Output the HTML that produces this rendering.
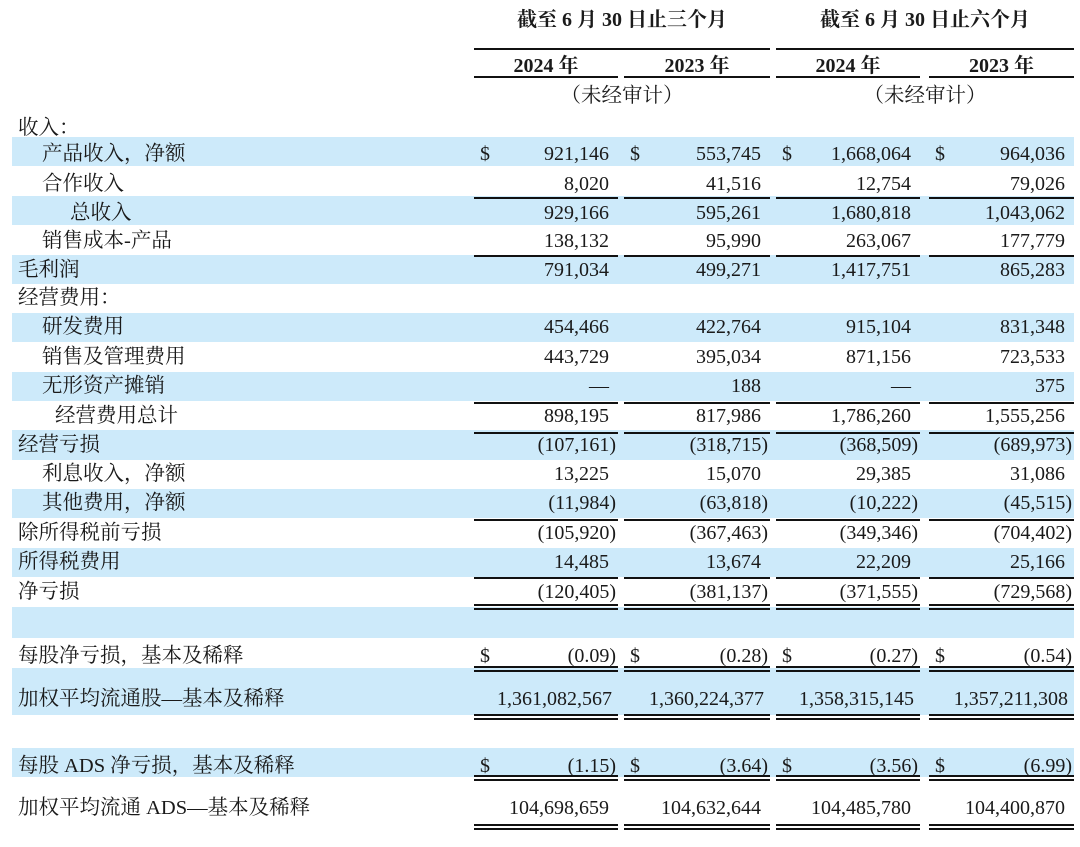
<!DOCTYPE html>
<html><head><meta charset="utf-8">
<style>
html,body{margin:0;padding:0;background:#fff;}
#root{position:relative;width:1080px;height:847px;overflow:hidden;font-family:"Liberation Serif","Noto Serif CJK SC",serif;color:#1a1a1a;}
.abs{position:absolute;white-space:nowrap;}
.band{position:absolute;left:12px;width:1062px;background:#cdeafa;}
.lbl{font-size:20.5px;line-height:22px;}
.num{font-size:20px;line-height:22px;text-align:right;}
.hdr{font-weight:bold;font-size:20px;line-height:22px;text-align:center;}
.ln{position:absolute;height:2px;background:#111;}
</style></head>
<body>
<div id="root"></div>
<script>
const labels=["收入：","产品收入，净额","合作收入","总收入","销售成本-产品","毛利润","经营费用：","研发费用","销售及管理费用","无形资产摊销","经营费用总计","经营亏损","利息收入，净额","其他费用，净额","除所得税前亏损","所得税费用","净亏损","","每股净亏损，基本及稀释","加权平均流通股—基本及稀释","","每股 ADS 净亏损，基本及稀释","加权平均流通 ADS—基本及稀释"];
const indents=[0,1,1,3,1,0,0,1,1,1,2,0,1,1,0,0,0,0,0,0,0,0,0];
const rowY=[128,154,184,213,241,270,298,327,357,386,416,445,474,503,533,562,592,622,656,699,730,766,808];
const bands=[[137,166],[196,225],[255,284],[313,342],[372,401],[430,460],[489,518],[548,577],[607,638],[668,715],[748,777]];
const q2024=["","921,146","8,020","929,166","138,132","791,034","","454,466","443,729","—","898,195","(107,161)","13,225","(11,984)","(105,920)","14,485","(120,405)","","(0.09)","1,361,082,567","","(1.15)","104,698,659"];
const q2023=["","553,745","41,516","595,261","95,990","499,271","","422,764","395,034","188","817,986","(318,715)","15,070","(63,818)","(367,463)","13,674","(381,137)","","(0.28)","1,360,224,377","","(3.64)","104,632,644"];
const h2024=["","1,668,064","12,754","1,680,818","263,067","1,417,751","","915,104","871,156","—","1,786,260","(368,509)","29,385","(10,222)","(349,346)","22,209","(371,555)","","(0.27)","1,358,315,145","","(3.56)","104,485,780"];
const h2023=["","964,036","79,026","1,043,062","177,779","865,283","","831,348","723,533","375","1,555,256","(689,973)","31,086","(45,515)","(704,402)","25,166","(729,568)","","(0.54)","1,357,211,308","","(6.99)","104,400,870"];
const dollarRows=[1,18,21];
const singleLines=[197,255,402,432,519,577];
const doubleLines=[606,668,716,777,826];
const colL=[474,624,776,929], colR=[618,770,920,1074];
const series=[q2024,q2023,h2024,h2023];
const root=document.getElementById('root');
function mk(cls,css,txt){const d=document.createElement('div');d.className=cls;d.style.cssText=css;if(txt!==undefined)d.textContent=txt;root.appendChild(d);return d;}
bands.forEach(b=>{const d=mk('band',`top:${b[0]}px;height:${b[1]-b[0]}px;`);

});
const indPx=[18,42,55,70];
labels.forEach((t,i)=>{if(!t)return;const d=mk('abs lbl',`left:${indPx[indents[i]]}px;top:${rowY[i]-11}px;`,t);

});
series.forEach((s,c)=>{s.forEach((v,i)=>{if(!v)return;const paren=v.endsWith(')');const long=v.length>11;
const r=colR[c]-(paren?2:(long?6:9));
const d=mk('abs num',`right:${1080-r}px;top:${rowY[i]-11}px;`,v);

});
dollarRows.forEach(i=>{const d=mk('abs num',`left:${colL[c]+6}px;top:${rowY[i]-11}px;`,'$');

});
singleLines.forEach(y=>{const d=mk('ln',`left:${colL[c]}px;width:${colR[c]-colL[c]}px;top:${y}px;`);

});
doubleLines.forEach(y=>{const d=mk('ln',`left:${colL[c]}px;width:${colR[c]-colL[c]}px;top:${y-2}px;`);


const e=mk('ln',`left:${colL[c]}px;width:${colR[c]-colL[c]}px;top:${y+2}px;height:1.5px;`);

});
const yr=mk('abs hdr',`left:${colL[c]}px;width:${colR[c]-colL[c]}px;top:55px;`,c%2?'2023 年':'2024 年');


const yl=mk('ln',`left:${colL[c]}px;width:${colR[c]-colL[c]}px;top:76px;`);


});
[[474,770,'截至 6 月 30 日止三个月'],[776,1074,'截至 6 月 30 日止六个月']].forEach(g=>{
const h=mk('abs hdr',`left:${g[0]}px;width:${g[1]-g[0]}px;top:9px;`,g[2]);


const l=mk('ln',`left:${g[0]}px;width:${g[1]-g[0]}px;top:48px;`);


const u=mk('abs lbl',`left:${g[0]}px;width:${g[1]-g[0]}px;top:85px;text-align:center;`,'（未经审计）');


});
</script>
</body></html>
